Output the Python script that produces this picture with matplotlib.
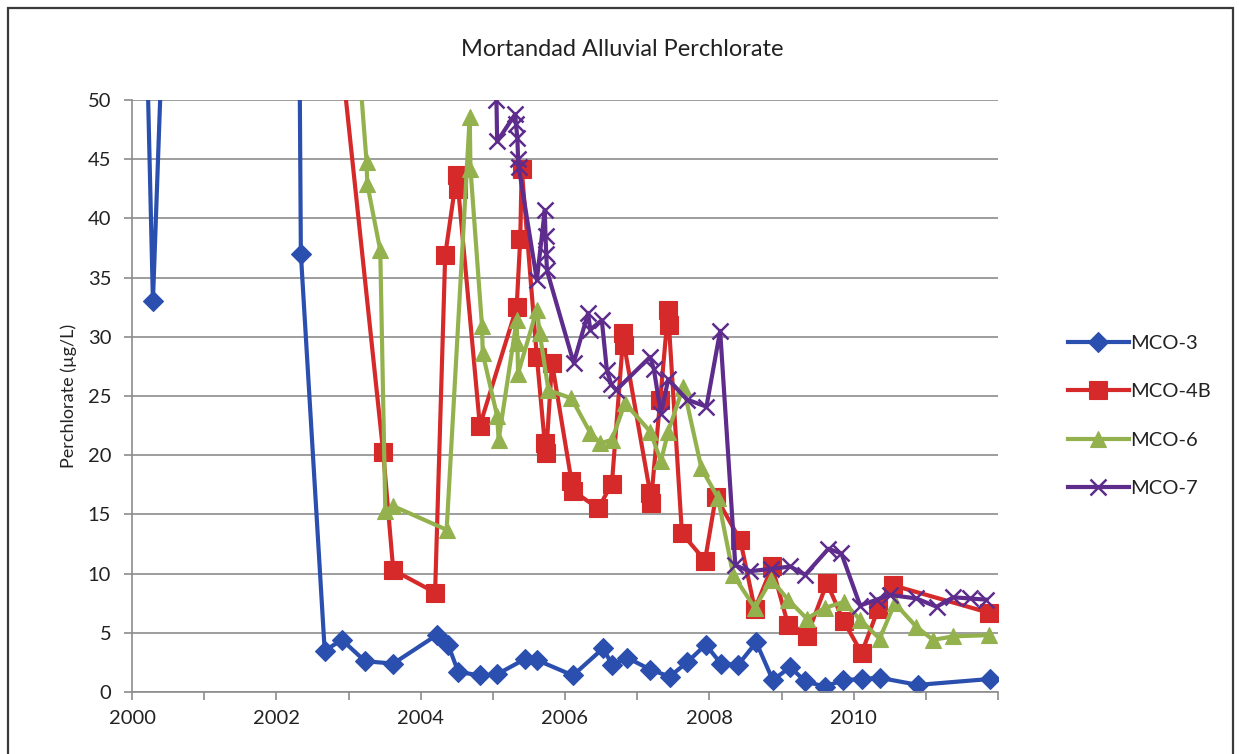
import matplotlib
matplotlib.use("Agg")
import matplotlib.pyplot as plt
from matplotlib.patches import Rectangle

plt.rcParams['font.family'] = ['Lato', 'DejaVu Sans']

# ---------------- data (decimal years, µg/L) ----------------
mco3_x = [2000.15, 2000.29, 2000.49, 2002.25, 2002.34, 2002.67, 2002.91, 2003.23, 2003.62,
          2004.22, 2004.38, 2004.52, 2004.82, 2005.06, 2005.45, 2005.61, 2006.11, 2006.53,
          2006.65, 2006.86, 2007.18, 2007.45, 2007.69, 2007.95, 2008.16, 2008.40, 2008.65,
          2008.88, 2009.12, 2009.33, 2009.60, 2009.85, 2010.11, 2010.36, 2010.89, 2011.89]
mco3_y = [69, 33, 67, 120, 37, 3.5, 4.4, 2.6, 2.4,
          4.8, 4.0, 1.7, 1.4, 1.5, 2.8, 2.7, 1.4, 3.7,
          2.3, 2.9, 1.9, 1.3, 2.5, 4.0, 2.4, 2.3, 4.2,
          1.0, 2.1, 0.9, 0.45, 1.0, 1.1, 1.2, 0.6, 1.1]

mco4b_x = [2002.74, 2003.48, 2003.62, 2004.20, 2004.34, 2004.50, 2004.52, 2004.82, 2005.33,
           2005.38, 2005.40, 2005.61, 2005.72, 2005.74, 2005.82, 2006.09, 2006.11, 2006.46,
           2006.65, 2006.81, 2006.82, 2007.18, 2007.19, 2007.32, 2007.43, 2007.44, 2007.62,
           2007.94, 2008.09, 2008.43, 2008.63, 2008.87, 2009.09, 2009.35, 2009.63, 2009.86,
           2010.11, 2010.34, 2010.55, 2011.87]
mco4b_y = [63, 20.3, 10.3, 8.4, 36.9, 43.7, 42.5, 22.5, 32.5,
           38.3, 44.2, 28.3, 21.0, 20.2, 27.8, 17.8, 17.0, 15.5,
           17.6, 30.3, 29.3, 16.8, 16.0, 24.7, 32.3, 31.0, 13.4,
           11.1, 16.5, 12.8, 7.0, 10.6, 5.7, 4.7, 9.2, 6.0,
           3.3, 7.0, 9.0, 6.7]

mco6_x = [2003.02, 2003.25, 2003.26, 2003.44, 2003.51, 2003.62, 2004.36, 2004.68, 2004.69,
          2004.85, 2004.86, 2005.06, 2005.08, 2005.33, 2005.34, 2005.35, 2005.61, 2005.65,
          2005.77, 2006.09, 2006.35, 2006.49, 2006.65, 2006.83, 2007.18, 2007.33, 2007.43,
          2007.64, 2007.89, 2008.12, 2008.33, 2008.63, 2008.86, 2009.09, 2009.35, 2009.60,
          2009.86, 2010.09, 2010.36, 2010.57, 2010.87, 2011.10, 2011.38, 2011.87]
mco6_y = [63, 44.8, 42.9, 37.3, 15.3, 15.7, 13.7, 48.6, 44.2,
          30.9, 28.6, 23.3, 21.3, 31.4, 29.5, 26.9, 32.3, 30.3,
          25.5, 24.8, 21.9, 21.0, 21.3, 24.4, 22.0, 19.5, 22.0,
          25.8, 18.9, 16.4, 9.9, 7.1, 9.5, 7.8, 6.2, 7.1,
          7.6, 6.1, 4.5, 7.5, 5.5, 4.4, 4.7, 4.8]

mco7_x = [2005.05, 2005.06, 2005.31, 2005.32, 2005.34, 2005.35, 2005.36, 2005.61, 2005.72,
          2005.73, 2005.74, 2005.75, 2006.12, 2006.32, 2006.35, 2006.51, 2006.58, 2006.64,
          2006.71, 2007.18, 2007.23, 2007.33, 2007.43, 2007.69, 2007.96, 2008.15, 2008.36,
          2008.56, 2008.86, 2009.12, 2009.33, 2009.65, 2009.83, 2010.09, 2010.32, 2010.50,
          2010.87, 2011.15, 2011.38, 2011.61, 2011.84]
mco7_y = [50.0, 46.5, 48.8, 48.0, 46.8, 45.0, 44.3, 34.8, 40.7,
          38.5, 37.0, 35.6, 27.8, 32.0, 30.6, 31.4, 27.2, 26.0,
          25.5, 28.3, 27.3, 23.5, 26.4, 24.7, 24.1, 30.5, 10.7,
          10.2, 10.4, 10.6, 9.9, 12.1, 11.7, 7.3, 7.8, 8.2,
          7.9, 7.2, 8.0, 7.9, 7.8]

series_names = ["MCO-3", "MCO-4B", "MCO-6", "MCO-7"]
x_tick_labels = ["2000", "2002", "2004", "2006", "2008", "2010"]
y_ticks = [0, 5, 10, 15, 20, 25, 30, 35, 40, 45, 50]

# ---------------- figure ----------------
W, H = 1239, 754
fig = plt.figure(figsize=(W / 100, H / 100), dpi=100)
ax = fig.add_axes([132 / W, 1 - 692 / H, (998 - 132) / W, (692 - 100) / H])

# outer chart frame
fig.patches.append(Rectangle((8 / W, -0.01), (1233 - 8) / W, (H - 8) / H + 0.01,
                             transform=fig.transFigure, fill=False,
                             edgecolor="#3a3a3a", linewidth=1.6))

styles = [
    dict(color="#2B4FAE", marker="D", markersize=10, markeredgewidth=0.8),
    dict(color="#D62A2A", marker="s", markersize=13, markeredgewidth=0.8),
    dict(color="#93B24E", marker="^", markersize=12, markeredgewidth=0.8),
    dict(color="#5E2C8C", marker="x", markersize=12, markeredgewidth=1.8),
]
data = [(mco3_x, mco3_y), (mco4b_x, mco4b_y), (mco6_x, mco6_y), (mco7_x, mco7_y)]
handles = []
for (xs, ys), name, st in zip(data, series_names, styles):
    h, = ax.plot(xs, ys, linewidth=3.0, label=name, solid_joinstyle="round", **st)
    handles.append(h)

ax.set_xlim(2000, 2012)
ax.set_ylim(0, 50)
ax.set_yticks(y_ticks)
ax.set_yticklabels([str(v) for v in y_ticks])
ax.set_xticks(range(2000, 2013))
ax.set_xticklabels([str(y) if str(y) in x_tick_labels else "" for y in range(2000, 2013)])

ax.grid(axis="y", color="#8c8c8c", linewidth=1.2)
ax.set_axisbelow(True)
for s in ["top", "right"]:
    ax.spines[s].set_visible(False)
for s in ["left", "bottom"]:
    ax.spines[s].set_color("#8c8c8c")
    ax.spines[s].set_linewidth(1.2)
ax.tick_params(axis="both", direction="out", length=6, width=1.2, color="#8c8c8c",
               labelsize=14.5, labelcolor="#222222")
ax.tick_params(axis="y", pad=9)
ax.tick_params(axis="x", pad=7)

ax.set_ylabel("Perchlorate (µg/L)", fontsize=13, color="#222222", labelpad=8)
fig.text(622 / W, 1 - 50 / H, "Mortandad Alluvial Perchlorate", ha="center", va="center",
         fontsize=17, color="#222222")

leg = fig.legend(handles=handles, labels=series_names, loc="center left",
                 bbox_to_anchor=(1050 / W, 1 - 416 / H), frameon=False, fontsize=14.5,
                 handlelength=3.0, labelspacing=1.55, handletextpad=0.1,
                 labelcolor="#222222")

fig.savefig("out.png", dpi=100)
